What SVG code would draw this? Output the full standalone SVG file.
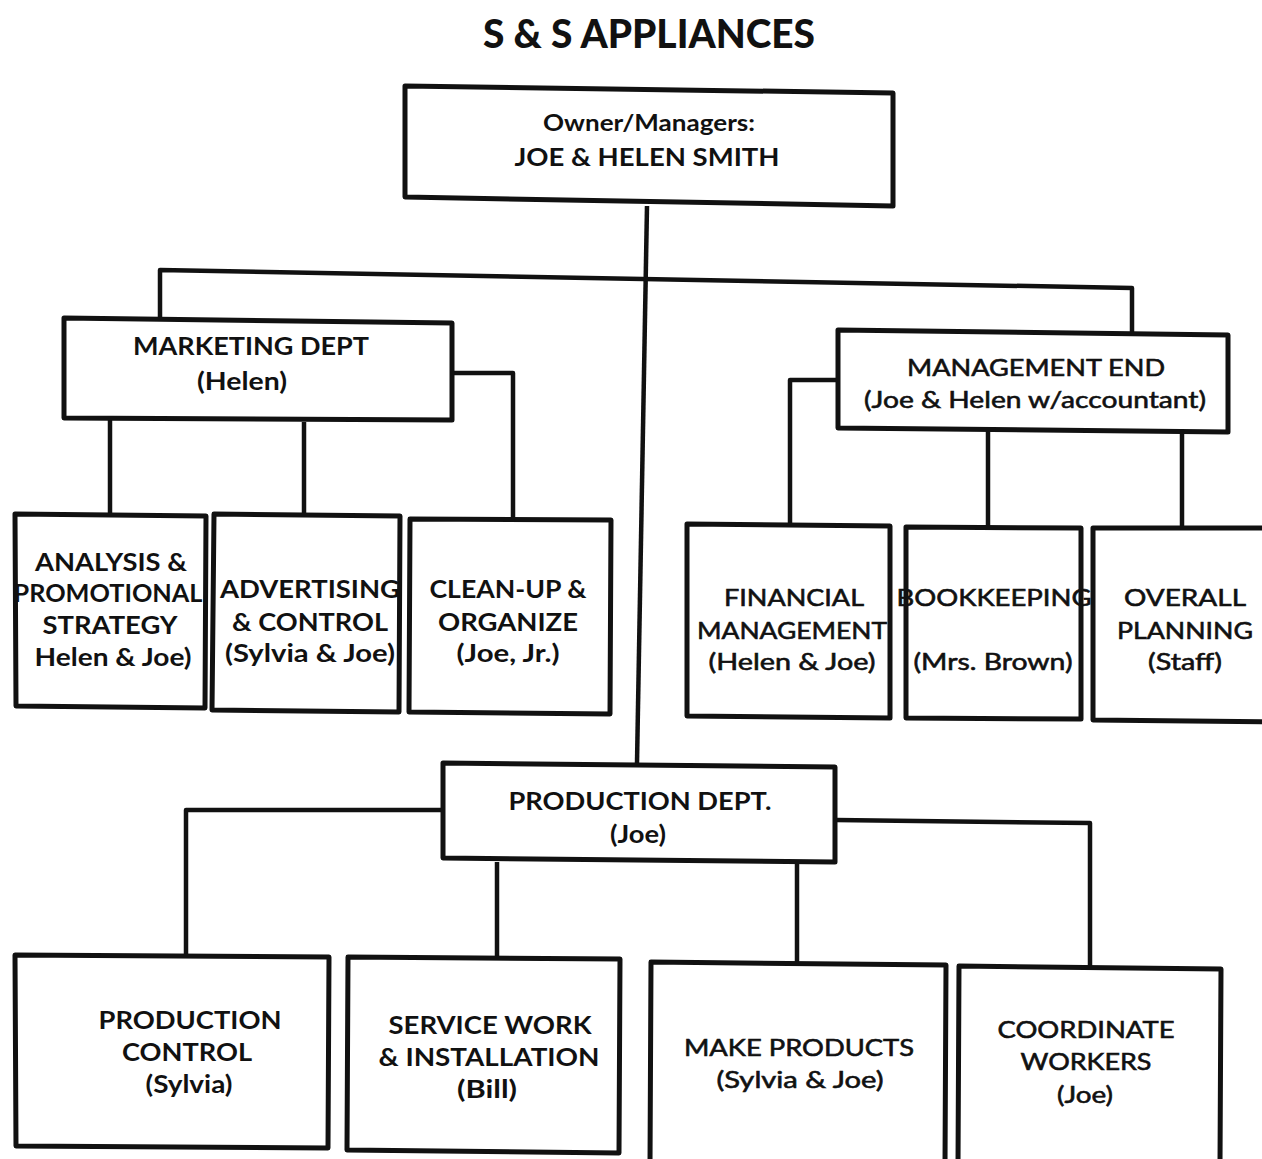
<svg xmlns="http://www.w3.org/2000/svg" width="1262" height="1159" viewBox="0 0 1262 1159">
<style>
.box{fill:#fff;stroke:#111;stroke-width:5;stroke-linejoin:round}
.con{fill:none;stroke:#111;stroke-width:4.5;stroke-linejoin:round}
text{font-family:Lato,"Open Sans","DejaVu Sans",sans-serif;fill:#111;text-anchor:middle}
.b{font-size:24px;font-weight:bold}
.r{font-size:24px;font-weight:normal;stroke:#111;stroke-width:0.6}
.title{font-size:40px;font-weight:900}
</style>
<rect x="0" y="0" width="1262" height="1159" fill="#fff"/>
<text class="title" x="649" y="48" textLength="332" lengthAdjust="spacingAndGlyphs">S &amp; S APPLIANCES</text>
<g id="connectors">
<path class="con" d="M647,206 L637,763"/>
<path class="con" d="M160,320 V270 L1132,288 V333"/>
<path class="con" d="M110,420 V514"/>
<path class="con" d="M304,422 V514"/>
<path class="con" d="M452,373 H513 V520"/>
<path class="con" d="M838,380 H790 V524"/>
<path class="con" d="M988,431 V527"/>
<path class="con" d="M1182,432 V527"/>
<path class="con" d="M443,810 H186 V955"/>
<path class="con" d="M497,862 V957"/>
<path class="con" d="M797,862 V962"/>
<path class="con" d="M836,820 L1090,823 V966"/>
</g>
<g id="owner">
<path class="box" d="M405,86 L893,93 L893,206 L405,197 Z"/>
<text class="b" x="649" y="131" textLength="212" lengthAdjust="spacingAndGlyphs" style="font-size:22px">Owner/Managers:</text>
<text class="b" x="647" y="166" textLength="265" lengthAdjust="spacingAndGlyphs">JOE &amp; HELEN SMITH</text>
</g>
<g id="marketing">
<path class="box" d="M64,318 L452,323 L452,420 L64,418 Z"/>
<text class="b" x="251" y="355" textLength="236" lengthAdjust="spacingAndGlyphs">MARKETING DEPT</text>
<text class="b" x="242" y="390" textLength="90" lengthAdjust="spacingAndGlyphs">(Helen)</text>
</g>
<g id="management">
<path class="box" d="M838,330 L1228,335 L1228,432 L838,428 Z"/>
<text class="r" x="1036" y="376" textLength="258" lengthAdjust="spacingAndGlyphs">MANAGEMENT END</text>
<text class="r" x="1035" y="408" textLength="342" lengthAdjust="spacingAndGlyphs">(Joe &amp; Helen w/accountant)</text>
</g>
<g id="analysis">
<path class="box" d="M15,514 L206,516 L205,708 L16,706 Z"/>
<text class="b" x="111" y="571" textLength="152" lengthAdjust="spacingAndGlyphs">ANALYSIS &amp;</text>
<text class="b" x="108" y="602" textLength="189" lengthAdjust="spacingAndGlyphs">PROMOTIONAL</text>
<text class="b" x="110" y="634" textLength="135" lengthAdjust="spacingAndGlyphs">STRATEGY</text>
<text class="b" x="113" y="666" textLength="157" lengthAdjust="spacingAndGlyphs">Helen &amp; Joe)</text>
</g>
<g id="advertising">
<path class="box" d="M214,514 L400,516 L399,712 L212,710 Z"/>
<text class="b" x="310" y="598" textLength="180" lengthAdjust="spacingAndGlyphs">ADVERTISING</text>
<text class="b" x="310" y="631" textLength="156" lengthAdjust="spacingAndGlyphs">&amp; CONTROL</text>
<text class="b" x="310" y="662" textLength="170" lengthAdjust="spacingAndGlyphs">(Sylvia &amp; Joe)</text>
</g>
<g id="cleanup">
<path class="box" d="M410,519 L611,520 L610,714 L409,712 Z"/>
<text class="b" x="508" y="598" textLength="157" lengthAdjust="spacingAndGlyphs">CLEAN-UP &amp;</text>
<text class="b" x="508" y="631" textLength="140" lengthAdjust="spacingAndGlyphs">ORGANIZE</text>
<text class="b" x="508" y="662" textLength="103" lengthAdjust="spacingAndGlyphs">(Joe, Jr.)</text>
</g>
<g id="financial">
<path class="box" d="M687,524 L890,526 L890,718 L687,716 Z"/>
<text class="r" x="794" y="606" textLength="140" lengthAdjust="spacingAndGlyphs">FINANCIAL</text>
<text class="r" x="792" y="639" textLength="190" lengthAdjust="spacingAndGlyphs">MANAGEMENT</text>
<text class="r" x="792" y="670" textLength="167" lengthAdjust="spacingAndGlyphs">(Helen &amp; Joe)</text>
</g>
<g id="bookkeeping">
<path class="box" d="M906,527 L1081,528 L1081,719 L906,718 Z"/>
<text class="r" x="994" y="606" textLength="195" lengthAdjust="spacingAndGlyphs">BOOKKEEPING</text>
<text class="r" x="993" y="670" textLength="159" lengthAdjust="spacingAndGlyphs">(Mrs. Brown)</text>
</g>
<g id="overall">
<path class="box" d="M1093,528 L1275,528 L1275,722 L1093,720 Z"/>
<text class="r" x="1185" y="606" textLength="122" lengthAdjust="spacingAndGlyphs">OVERALL</text>
<text class="r" x="1185" y="639" textLength="136" lengthAdjust="spacingAndGlyphs">PLANNING</text>
<text class="r" x="1185" y="670" textLength="74" lengthAdjust="spacingAndGlyphs">(Staff)</text>
</g>
<g id="production">
<path class="box" d="M443,763 L835,767 L835,862 L443,858 Z"/>
<text class="b" x="640" y="810" textLength="263" lengthAdjust="spacingAndGlyphs">PRODUCTION DEPT.</text>
<text class="b" x="638" y="843" textLength="56" lengthAdjust="spacingAndGlyphs">(Joe)</text>
</g>
<g id="prodcontrol">
<path class="box" d="M15,955 L329,957 L328,1148 L16,1146 Z"/>
<text class="b" x="190" y="1029" textLength="183" lengthAdjust="spacingAndGlyphs">PRODUCTION</text>
<text class="b" x="187" y="1061" textLength="130" lengthAdjust="spacingAndGlyphs">CONTROL</text>
<text class="b" x="189" y="1093" textLength="87" lengthAdjust="spacingAndGlyphs">(Sylvia)</text>
</g>
<g id="service">
<path class="box" d="M348,957 L620,959 L619,1153 L347,1150 Z"/>
<text class="b" x="490" y="1034" textLength="203" lengthAdjust="spacingAndGlyphs">SERVICE WORK</text>
<text class="b" x="489" y="1066" textLength="221" lengthAdjust="spacingAndGlyphs">&amp; INSTALLATION</text>
<text class="b" x="487" y="1098" textLength="60" lengthAdjust="spacingAndGlyphs">(Bill)</text>
</g>
<g id="make">
<path class="box" d="M651,962 L946,965 L945,1165 L650,1165 Z"/>
<text class="r" x="799" y="1056" textLength="230" lengthAdjust="spacingAndGlyphs">MAKE PRODUCTS</text>
<text class="r" x="800" y="1088" textLength="167" lengthAdjust="spacingAndGlyphs">(Sylvia &amp; Joe)</text>
</g>
<g id="coordinate">
<path class="box" d="M959,966 L1221,969 L1220,1165 L958,1165 Z"/>
<text class="r" x="1086" y="1038" textLength="177" lengthAdjust="spacingAndGlyphs">COORDINATE</text>
<text class="r" x="1086" y="1070" textLength="131" lengthAdjust="spacingAndGlyphs">WORKERS</text>
<text class="r" x="1085" y="1103" textLength="56" lengthAdjust="spacingAndGlyphs">(Joe)</text>
</g>
</svg>
